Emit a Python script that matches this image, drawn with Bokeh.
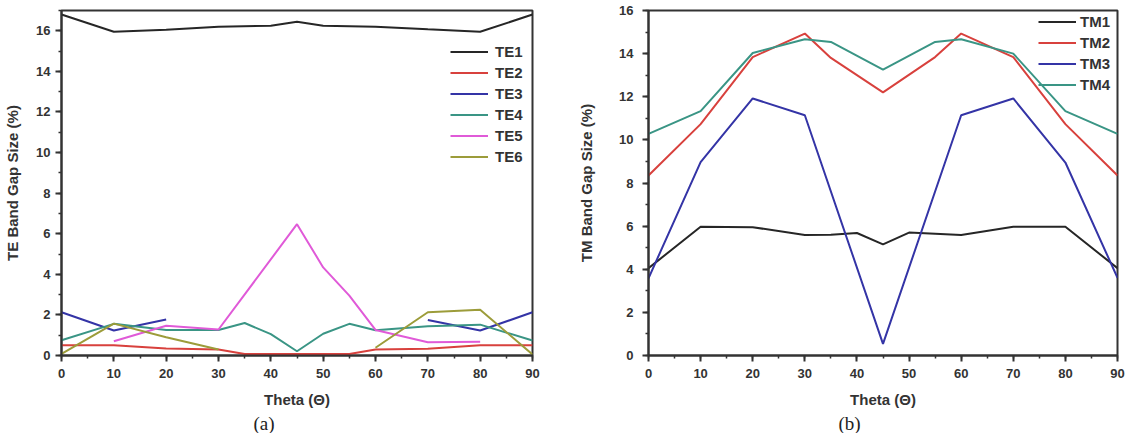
from bokeh.plotting import figure
from bokeh.layouts import row
from bokeh.models import Range1d, SingleIntervalTicker, Legend, LegendItem, Title
from bokeh.embed import file_html
from bokeh.resources import INLINE
import numpy as np

nan = np.nan

# ---- panel (a): TE band gaps ----
te1_x = [0, 10, 20, 30, 40, 45, 50, 60, 70, 80, 90]
te1_y = [16.8, 15.95, 16.05, 16.2, 16.25, 16.45, 16.25, 16.2, 16.07, 15.95, 16.8]
te2_x = [0, 10, 20, 30, 35, 55, 60, 70, 80, 90]
te2_y = [0.5, 0.5, 0.35, 0.3, 0.07, 0.07, 0.3, 0.33, 0.5, 0.5]
te3_x = [0, 10, 20, 45, 70, 80, 90]
te3_y = [2.13, 1.23, 1.77, nan, 1.75, 1.23, 2.13]
te4_x = [0, 10, 20, 30, 35, 40, 45, 50, 55, 60, 70, 80, 90]
te4_y = [0.75, 1.56, 1.26, 1.26, 1.6, 1.05, 0.21, 1.07, 1.56, 1.24, 1.44, 1.52, 0.74]
te5_x = [10, 20, 30, 45, 50, 55, 60, 70, 80]
te5_y = [0.7, 1.47, 1.28, 6.47, 4.34, 2.95, 1.26, 0.65, 0.68]
te6_x = [0, 10, 20, 30, 45, 60, 70, 80, 90]
te6_y = [0.08, 1.57, 0.9, 0.3, nan, 0.38, 2.13, 2.26, 0.05]

# ---- panel (b): TM band gaps ----
tm1_x = [0, 10, 20, 30, 35, 40, 45, 50, 60, 70, 80, 90]
tm1_y = [4.05, 5.97, 5.95, 5.59, 5.6, 5.68, 5.15, 5.7, 5.59, 5.97, 5.97, 4.05]
tm2_x = [0, 10, 20, 30, 35, 45, 55, 60, 70, 80, 90]
tm2_y = [8.35, 10.73, 13.84, 14.93, 13.8, 12.2, 13.84, 14.93, 13.84, 10.73, 8.35]
tm3_x = [0, 10, 20, 30, 45, 60, 70, 80, 90]
tm3_y = [3.58, 8.97, 11.92, 11.14, 0.54, 11.14, 11.92, 8.95, 3.6]
tm4_x = [0, 10, 20, 30, 35, 45, 55, 60, 70, 80, 90]
tm4_y = [10.28, 11.33, 14.03, 14.67, 14.54, 13.26, 14.54, 14.67, 14.0, 11.33, 10.28]

te_series = [("TE1", te1_x, te1_y, "#262626"), ("TE2", te2_x, te2_y, "#d8413d"),
             ("TE3", te3_x, te3_y, "#3434a6"), ("TE4", te4_x, te4_y, "#3a9585"),
             ("TE5", te5_x, te5_y, "#e05ad8"), ("TE6", te6_x, te6_y, "#9c9c3a")]
tm_series = [("TM1", tm1_x, tm1_y, "#262626"), ("TM2", tm2_x, tm2_y, "#d8413d"),
             ("TM3", tm3_x, tm3_y, "#3434a6"), ("TM4", tm4_x, tm4_y, "#3a9585")]

FONT = "Liberation Sans"
AX = "#333333"


def make(width, ylim, ylabel, series, borders, legend_loc, standoff,
         ytick_off, ylab_off, tag, tag_off):
    left, right, top, bottom = borders
    p = figure(width=width, height=433, output_backend="svg", toolbar_location=None,
               x_range=Range1d(0, 90), y_range=Range1d(0, ylim),
               min_border_left=left, min_border_right=right,
               min_border_top=top, min_border_bottom=bottom)
    p.xgrid.visible = False
    p.ygrid.visible = False
    p.outline_line_color = AX
    p.outline_line_width = 2
    p.xaxis.ticker = SingleIntervalTicker(interval=10, num_minor_ticks=2)
    p.yaxis.ticker = SingleIntervalTicker(interval=2, num_minor_ticks=2)
    for ax in (p.xaxis[0], p.yaxis[0]):
        ax.axis_line_width = 2
        ax.axis_line_color = AX
        ax.major_tick_in = 0
        ax.major_tick_out = 6
        ax.minor_tick_in = 0
        ax.minor_tick_out = 3
        ax.major_tick_line_width = 2
        ax.minor_tick_line_width = 1.5
        ax.major_tick_line_color = AX
        ax.minor_tick_line_color = AX
        ax.major_label_text_font = FONT
        ax.major_label_text_font_style = "bold"
        ax.major_label_text_font_size = "13px"
        ax.major_label_text_color = "#333333"
        ax.axis_label_text_font = FONT
        ax.axis_label_text_font_style = "bold"
        ax.axis_label_text_font_size = "15px"
        ax.axis_label_text_color = "#333333"
    p.xaxis.axis_label = "Theta (\u0398)"
    p.yaxis.axis_label = ylabel
    p.xaxis.major_label_standoff = 7
    p.xaxis.axis_label_standoff = 10
    p.yaxis.major_label_standoff = ytick_off
    p.yaxis.axis_label_standoff = ylab_off

    items = []
    for name, xs, ys, col in series:
        r = p.line(xs, ys, line_color=col, line_width=2)
        items.append(LegendItem(label=name, renderers=[r]))
    leg = Legend(items=items, location=legend_loc, glyph_width=38, glyph_height=21,
                 label_height=21, spacing=0, padding=0, margin=0,
                 label_standoff=standoff, border_line_alpha=0, background_fill_alpha=0,
                 label_text_font=FONT, label_text_font_style="bold",
                 label_text_font_size="15px", label_text_color="#333333")
    p.add_layout(leg)
    cap = Title(text=tag, align="left", offset=tag_off, standoff=0,
                text_font="Liberation Serif",
                text_font_size="19px", text_font_style="normal", text_color="#222222")
    p.add_layout(cap, "below")
    return p


p1 = make(575, 17, "TE Band Gap Size (%)", te_series, (61, 43, 9, 78), (389, 188), 7,
          5, 12, "(a)", 192)
p2 = make(553, 16, "TM Band Gap Size (%)", tm_series, (72, 11, 10, 77), (390, 260), 4,
          9, 21, "(b)", 190)

layout = row(p1, p2)
open("out.html", "w").write(file_html(layout, INLINE))
